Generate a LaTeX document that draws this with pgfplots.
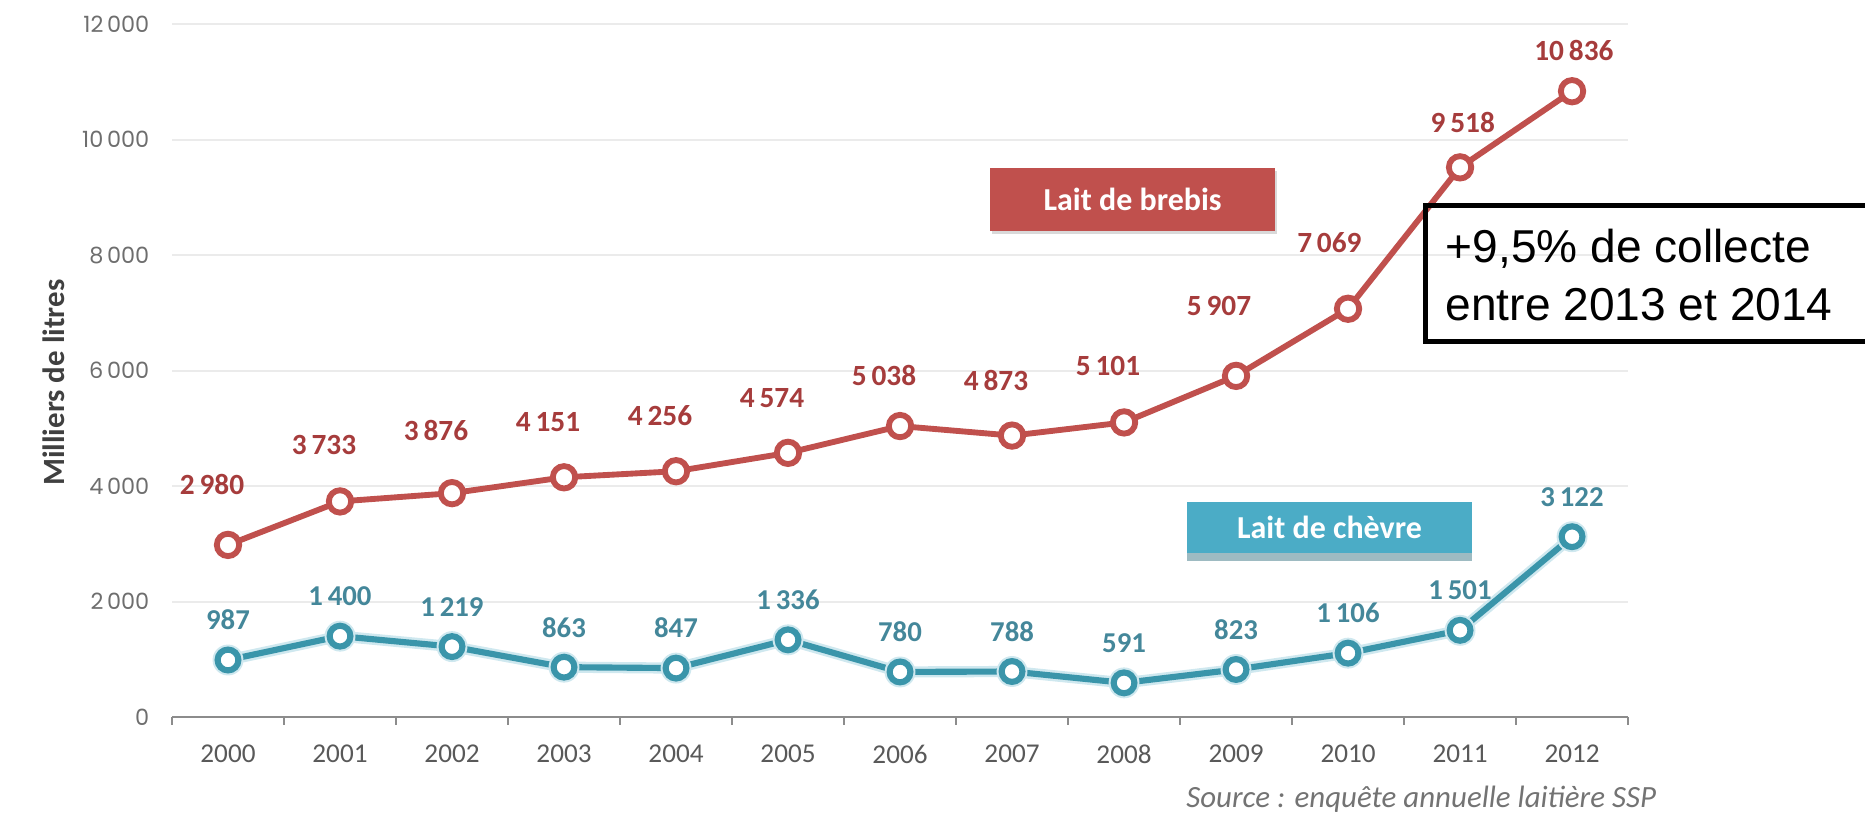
\documentclass[border=0pt]{standalone}
\usepackage{fontspec}
\setmainfont{Carlito}
\newfontfamily\pop{Poppins}
\newfontfamily\lib{Liberation Sans}
\usepackage{pgfplots}
\usepackage{pgfplotstable}
\pgfplotsset{compat=1.18}
\usetikzlibrary{shadows}
\pgfkeys{/pgf/number format/assume math mode=true}
\definecolor{red1}{HTML}{C0504D}
\definecolor{redlab}{HTML}{A63C3C}
\definecolor{blue1}{HTML}{3A95AA}
\definecolor{bluebox}{HTML}{4BACC6}
\definecolor{bluelab}{HTML}{44879A}
\definecolor{halo}{HTML}{CFE8EF}
\definecolor{gridgray}{HTML}{EBEBEB}
\definecolor{axisgray}{HTML}{8C8C8C}
\definecolor{ticklab}{HTML}{6E6E6E}
\definecolor{yearlab}{HTML}{595959}

\pgfplotstableread{
x y dx dy
0 2980 -6 22.5
1 3733 -6 21
2 3876 -6 23.6
3 4151 -6 20.6
4 4256 -6 21
5 4574 -6 20.6
6 5038 -6 19.1
7 4873 -6 20.6
8 5101 -6 21
9 5907 -6.4 26.3
10 7069 -7 24.8
11 9518 1 16.9
12 10836 0.7 15.4
}\brebis

\pgfplotstableread{
x y
0 987
1 1400
2 1219
3 863
4 847
5 1336
6 780
7 788
8 591
9 823
10 1106
11 1501
12 3122
}\chevre

\begin{document}
\begin{tikzpicture}
\useasboundingbox (0,0) rectangle (700pt,306.65pt);
\clip (0,0) rectangle (700pt,306.65pt);
\begin{axis}[
  scale only axis, width=546.5pt, height=260.1pt,
  at={(64.56pt,37.53pt)}, anchor=south west,
  xmin=-0.5, xmax=12.5, ymin=0, ymax=12000,
  xtick={0,1,2,3,4,5,6,7,8,9,10,11,12},
  xticklabels={2000,2001,2002,2003,2004,2005,2006,2007,2008,2009,2010,2011,2012},
  minor xtick={-0.5,0.5,...,12.5},
  major tick length=0pt,
  minor tick length=3pt,
  tick align=outside,
  axis x line*=bottom, axis y line*=left,
  x axis line style={color=axisgray, line width=1pt},
  y axis line style={draw=none},
  minor x tick style={color=axisgray, line width=0.8pt},
  major tick style={draw=none},
  ytick={0,2000,4000,6000,8000,10000,12000},
  scaled y ticks=false,
  ymajorgrids, grid style={color=gridgray, line width=0.75pt},
  /pgf/number format/.cd, 1000 sep={\,}, assume math mode=true, /pgfplots/.cd,
  yticklabel style={font=\pop\fontsize{8.4}{10}\selectfont, text=ticklab, xshift=-5pt},
  xticklabel style={font=\fontsize{10.2}{12}\selectfont, text=yearlab, yshift=-7pt},
  clip=false,
]
% goat milk halo
\addplot[halo, line width=4.2pt, mark=*, mark size=5.6pt,
  mark options={fill=halo, draw=halo, line width=0.4pt}, forget plot]
  table[x=x,y=y] {\chevre};
\addplot[blue1, line width=2.3pt, mark=*, mark size=3.9pt,
  mark options={fill=white, draw=blue1, line width=2.3pt},
  point meta=y,
  nodes near coords={\pgfmathprintnumber[1000 sep={\,}]{\pgfplotspointmeta}},
  every node near coord/.append style={anchor=center, yshift=15pt,
    font=\bfseries\fontsize{10.8}{13}\selectfont, text=bluelab}]
  table[x=x,y=y] {\chevre};
% sheep milk
\addplot[red1, line width=2.2pt, mark=*, mark size=4.2pt,
  mark options={fill=white, draw=red1, line width=2.2pt},
  point meta=y,
  visualization depends on={\thisrow{dx} \as \ldx},
  visualization depends on={\thisrow{dy} \as \ldy},
  nodes near coords={\pgfmathprintnumber[1000 sep={\,}]{\pgfplotspointmeta}},
  every node near coord/.append style={anchor=center, xshift=\ldx pt, yshift=\ldy pt,
    font=\bfseries\fontsize{11}{13}\selectfont, text=redlab}]
  table[x=x,y=y] {\brebis};
\end{axis}
% series boxes
\node[fill=red1, text=white, inner sep=0pt, minimum width=107pt, minimum height=23.6pt,
  font=\bfseries\fontsize{12}{14}\selectfont,
  drop shadow={opacity=0.3, shadow xshift=0.6pt, shadow yshift=-1.2pt}]
  at (425.1pt,231.75pt) {Lait de brebis};
\node[fill=bluebox, text=white, inner sep=0pt, minimum width=107pt, minimum height=19.1pt,
  font=\bfseries\fontsize{12}{14}\selectfont,
  drop shadow={opacity=0.45, fill=blue1!70!black, shadow xshift=0pt, shadow yshift=-3pt}]
  at (499pt,108.66pt) {Lait de ch\`evre};
% annotation box
\draw[line width=1.9pt] (535.1pt,178.5pt) rectangle (720pt,229.5pt);
\node[anchor=base west, inner sep=0pt, font=\lib\fontsize{17.3}{20}\selectfont] at (542.4pt,208.3pt) {+9,5\% de collecte};
\node[anchor=base west, inner sep=0pt, font=\lib\fontsize{17.3}{20}\selectfont] at (542.4pt,186.5pt) {entre 2013 et 2014};
% y label
\node[rotate=90, font=\bfseries\fontsize{11.6}{13}\selectfont, text=black!75] at (20.3pt,163pt) {Milliers de litres};
% source
\node[font=\itshape\fontsize{11.6}{14}\selectfont, text=black!55] at (533.4pt,6.6pt) {Source : enqu\^ete annuelle laiti\`ere SSP};
\end{tikzpicture}
\end{document}
